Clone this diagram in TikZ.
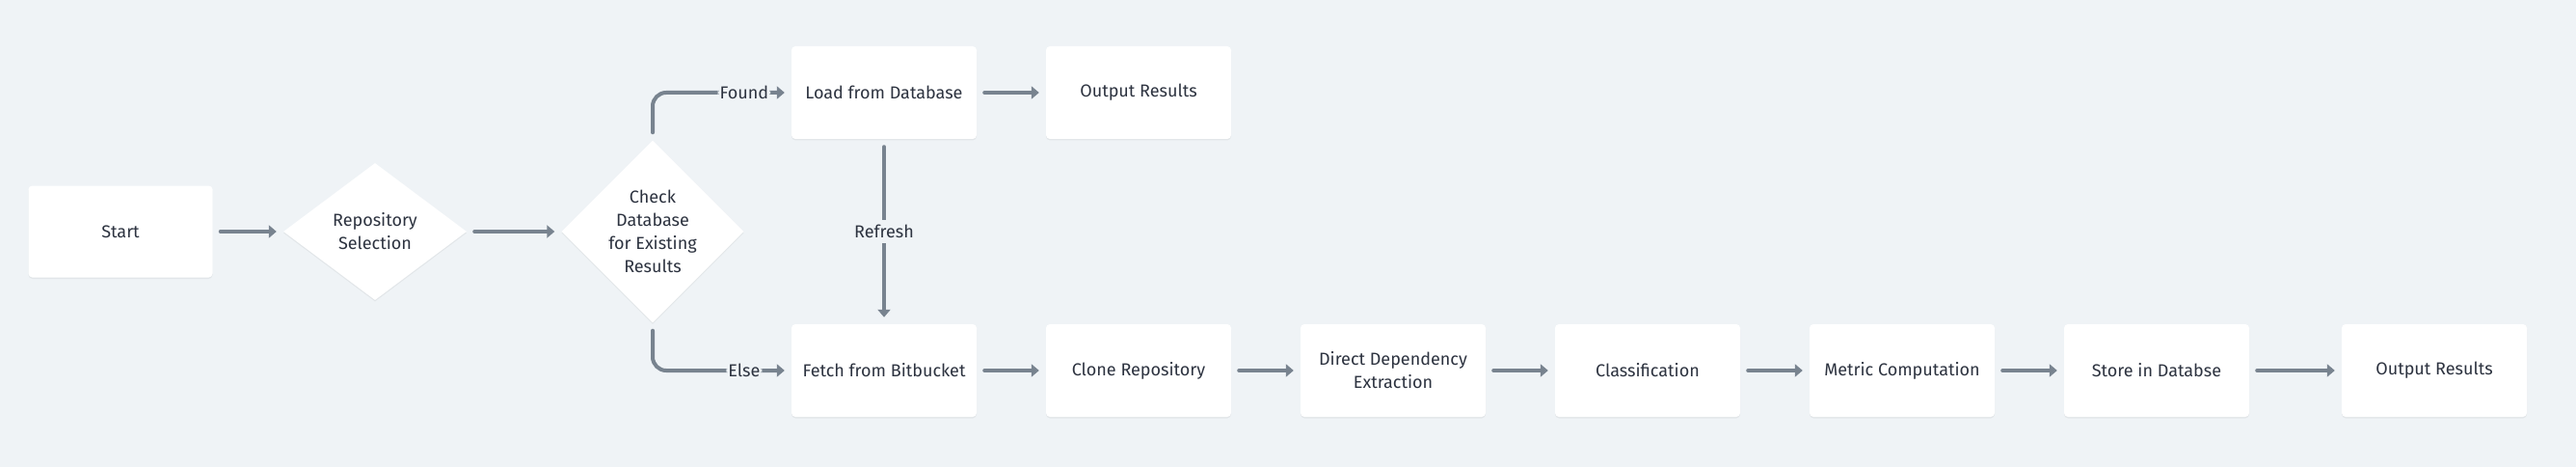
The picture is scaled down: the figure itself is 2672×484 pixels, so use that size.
\documentclass[tikz,border=0pt]{standalone}
\usepackage{fontspec}
\setmainfont{Fira Sans}
\usetikzlibrary{arrows.meta,shapes.geometric,shadows}
\definecolor{bg}{HTML}{EFF3F6}
\definecolor{arrowc}{HTML}{78838F}
\definecolor{txt}{HTML}{2D3340}
\tikzset{
  box/.style={rectangle, fill=white, rounded corners=4pt, minimum width=192pt, minimum height=96pt, inner sep=0pt, align=center, text=txt,
    font=\fontsize{18}{24}\selectfont,
    drop shadow={shadow xshift=0pt, shadow yshift=-1.5pt, opacity=.05, fill=black}},
  dia/.style={diamond, fill=white, inner sep=0pt, align=center, text=txt,
    font=\fontsize{18}{24}\selectfont,
    drop shadow={shadow xshift=0pt, shadow yshift=-1.5pt, opacity=.05, fill=black}},
  arr/.style={draw=arrowc, line width=4pt, line cap=round, -{Triangle[length=8pt,width=13pt]}, shorten <=8pt, shorten >=7pt},
  lbl/.style={fill=bg, text=txt, inner xsep=2pt, inner ysep=4pt, font=\fontsize{18}{24}\selectfont}
}
\begin{document}
\begin{tikzpicture}[x=1pt,y=-1pt]
\useasboundingbox (0,0) rectangle (2672,484);
\fill[bg] (0,0) rectangle (2672,484);

\node[box, minimum width=191pt, minimum height=95pt] (start) at (125,240) {Start};
\node[dia, minimum width=190pt, minimum height=142pt] (rep) at (389,240) {Repository\\Selection};
\node[dia, minimum width=189pt, minimum height=189pt] (check) at (677,240) {Check\\Database\\for Existing\\Results};
\node[box] (load) at (917,96) {Load from Database};
\node[box] (out1) at (1181,96) {Output Results};
\node[box] (fetch) at (917,384) {Fetch from Bitbucket};
\node[box] (clone) at (1181,384) {Clone Repository};
\node[box] (dep) at (1445,384) {Direct Dependency\\Extraction};
\node[box] (cls) at (1709,384) {Classification};
\node[box] (met) at (1973,384) {Metric Computation};
\node[box] (store) at (2237,384) {Store in Databse};
\node[box] (out2) at (2525,384) {Output Results};

\draw[arr] (start) -- (rep);
\draw[arr] (rep) -- (check);
\draw[arr, rounded corners=14pt] (check.north) |- node[lbl, pos=0.83] {Found} (load.west);
\draw[arr, rounded corners=14pt] (check.south) |- node[lbl, pos=0.83] {Else} (fetch.west);
\draw[arr] (load) -- (out1);
\draw[arr] (load) -- node[lbl, inner ysep=5pt] {Refresh} (fetch);
\draw[arr] (fetch) -- (clone);
\draw[arr] (clone) -- (dep);
\draw[arr] (dep) -- (cls);
\draw[arr] (cls) -- (met);
\draw[arr] (met) -- (store);
\draw[arr] (store) -- (out2);
\end{tikzpicture}
\end{document}
